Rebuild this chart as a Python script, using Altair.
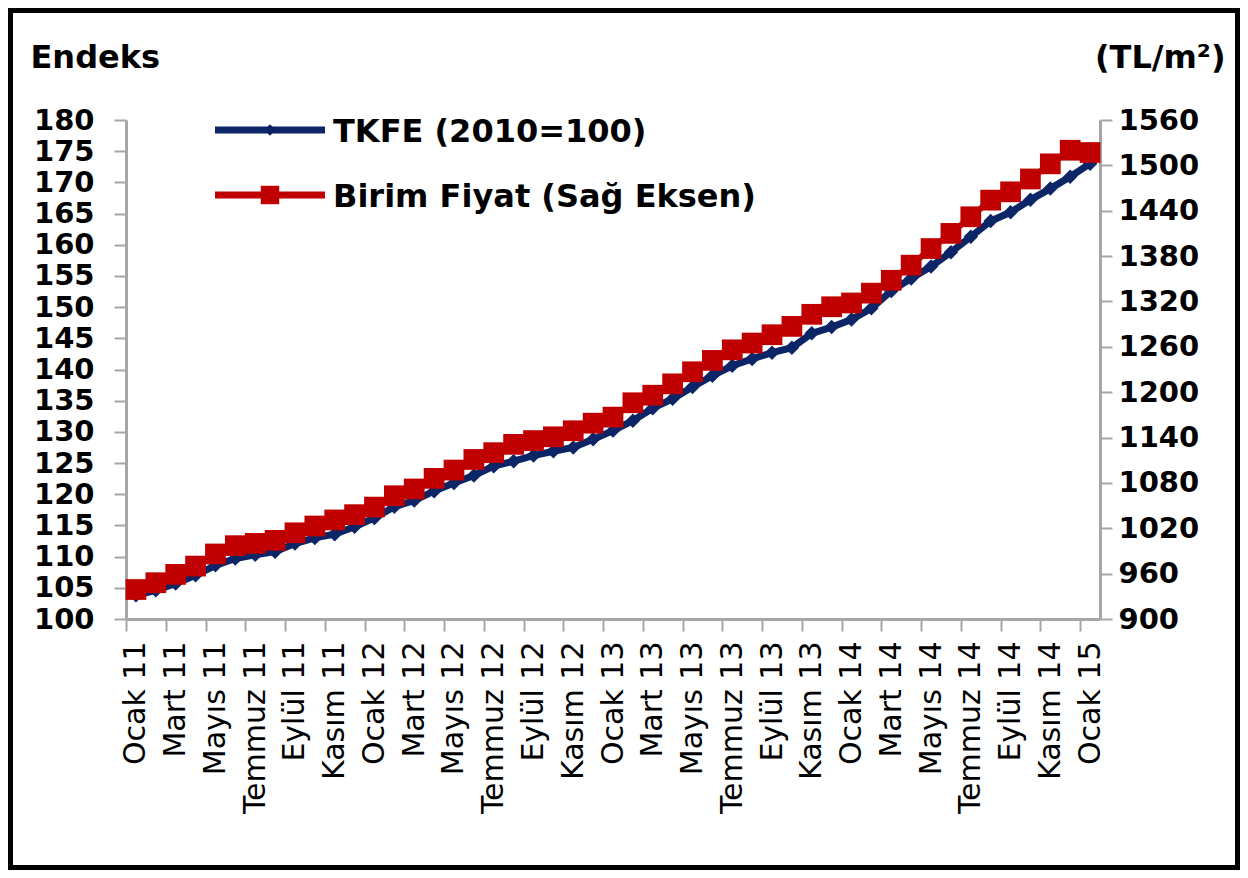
import altair as alt
import pandas as pd

# ---- data ----
months = [
    "Ocak 11", "Şubat 11", "Mart 11", "Nisan 11", "Mayıs 11", "Haziran 11",
    "Temmuz 11", "Ağustos 11", "Eylül 11", "Ekim 11", "Kasım 11", "Aralık 11",
    "Ocak 12", "Şubat 12", "Mart 12", "Nisan 12", "Mayıs 12", "Haziran 12",
    "Temmuz 12", "Ağustos 12", "Eylül 12", "Ekim 12", "Kasım 12", "Aralık 12",
    "Ocak 13", "Şubat 13", "Mart 13", "Nisan 13", "Mayıs 13", "Haziran 13",
    "Temmuz 13", "Ağustos 13", "Eylül 13", "Ekim 13", "Kasım 13", "Aralık 13",
    "Ocak 14", "Şubat 14", "Mart 14", "Nisan 14", "Mayıs 14", "Haziran 14",
    "Temmuz 14", "Ağustos 14", "Eylül 14", "Ekim 14", "Kasım 14", "Aralık 14",
    "Ocak 15",
]
tick_labels = [m if i % 2 == 0 else "" for i, m in enumerate(months)]

tkfe = [
    103.8, 104.6, 105.7, 107.0, 108.6, 109.7, 110.3, 110.8, 112.1, 113.0,
    113.6, 114.8, 116.2, 118.0, 119.0, 120.5, 121.8, 123.0, 124.5, 125.3,
    126.2, 126.9, 127.5, 128.8, 130.2, 131.8, 133.8, 135.3, 137.2, 139.0,
    140.6, 141.7, 142.7, 143.5, 145.8, 146.8, 148.0, 149.8, 152.6, 154.6,
    156.5, 158.8, 161.3, 163.8, 165.2, 167.2, 169.0, 170.9, 173.0,
]
birim = [
    939, 948, 959, 970, 986, 997, 1000, 1004, 1014, 1023,
    1031, 1038, 1048, 1063, 1072, 1086, 1097, 1111, 1120, 1131,
    1136, 1141, 1149, 1159, 1167, 1186, 1196, 1211, 1227, 1242,
    1256, 1265, 1276, 1287, 1303, 1313, 1318, 1331, 1348, 1368,
    1390, 1410, 1432, 1454, 1465, 1482, 1502, 1520, 1517,
]
legend_labels = ["TKFE (2010=100)", "Birim Fiyat (Sağ Eksen)"]
left_ticks = list(range(100, 181, 5))
right_ticks = list(range(900, 1561, 60))

df = pd.DataFrame({"idx": list(range(len(months))), "month": months,
                   "tkfe": tkfe, "birim": birim})

BLUE = "#0B2566"
RED = "#C00000"
GRAY = "#A6A6A6"
FONT = "DejaVu Sans"

W, H = 974, 499
PAD = {"left": 118, "top": 112, "right": 140, "bottom": 251}
n = len(months)
half_step = W / n / 2

label_arr = "[" + ",".join("'" + t + "'" for t in tick_labels + [""]) + "]"
label_expr = label_arr + "[floor(datum.value + 0.5)]"

x_enc = alt.X(
    "idx:Q",
    scale=alt.Scale(domain=[-0.5, n - 0.5], nice=False, zero=False),
    axis=alt.Axis(
        values=[k - 0.5 for k in range(n + 1)],
        labelExpr=label_expr,
        labelAngle=270,
        labelOffset=half_step,
        labelFont=FONT, labelFontSize=30, labelColor="black",
        labelPadding=10, labelOverlap=False, labelBound=False, labelFlush=False,
        tickSize=12, tickColor=GRAY, tickWidth=2,
        domainColor=GRAY, domainWidth=3,
        grid=False, title=None,
    ),
)

base = alt.Chart(df)

blue = base.mark_line(
    color=BLUE, strokeWidth=7,
    point=alt.OverlayMarkDef(shape="diamond", size=210, filled=True, color=BLUE, opacity=1),
).encode(
    x=x_enc,
    y=alt.Y("tkfe:Q",
            scale=alt.Scale(domain=[100, 180], nice=False, zero=False),
            axis=alt.Axis(
                orient="left", values=left_ticks, format="d",
                labelFont=FONT, labelFontSize=29, labelFontWeight="bold",
                labelColor="black", labelPadding=20, labelOverlap=False,
                labelBound=False, labelFlush=False,
                tickSize=12, tickColor=GRAY, tickWidth=2,
                domainColor=GRAY, domainWidth=3, grid=False,
                title="Endeks", titleAngle=0, titleX=-96, titleY=-63,
                titleAlign="left", titleBaseline="middle",
                titleFont=FONT, titleFontSize=32, titleFontWeight="bold",
                titleColor="black",
            )),
)

red = base.mark_line(
    color=RED, strokeWidth=6,
    point=alt.OverlayMarkDef(shape="square", size=430, filled=True, color=RED, opacity=1),
).encode(
    x=alt.X("idx:Q"),
    y=alt.Y("birim:Q",
            scale=alt.Scale(domain=[900, 1560], nice=False, zero=False),
            axis=alt.Axis(
                orient="right", values=right_ticks, format="d",
                labelFont=FONT, labelFontSize=29, labelFontWeight="bold",
                labelColor="black", labelPadding=6, labelOverlap=False,
                labelBound=False, labelFlush=False,
                tickSize=12, tickColor=GRAY, tickWidth=2,
                domainColor=GRAY, domainWidth=3, grid=False,
                title="(TL/m²)", titleAngle=0, titleX=125, titleY=-63,
                titleAlign="right", titleBaseline="middle",
                titleFont=FONT, titleFontSize=32, titleFontWeight="bold",
                titleColor="black",
            )),
)

# ---- manual legend (top-left inside plot) ----
def legend_entry(label, color, shape, size, ypos):
    d = alt.Data(values=[{"label": label}])
    line = alt.Chart(d).mark_rule(color=color, strokeWidth=7).encode(
        x=alt.value(89), x2=alt.value(199), y=alt.value(ypos))
    pt = alt.Chart(d).mark_point(shape=shape, size=size, filled=True,
                                 color=color, opacity=1).encode(
        x=alt.value(144), y=alt.value(ypos))
    txt = alt.Chart(d).mark_text(align="left", baseline="middle", font=FONT,
                                 fontSize=32, fontWeight="bold",
                                 color="black").encode(
        x=alt.value(207), y=alt.value(ypos + 2), text="label:N")
    return [line, pt, txt]

leg = legend_entry(legend_labels[0], BLUE, "diamond", 130, 10) + \
      legend_entry(legend_labels[1], RED, "square", 340, 75)

frame = alt.Chart(alt.Data(values=[{"f": 1}])).mark_rect(
    fillOpacity=0, stroke="black", strokeWidth=5).encode(
    x=alt.value(2.5 - PAD["left"]),
    x2=alt.value(W + PAD["right"] - 2.5),
    y=alt.value(2.5 - PAD["top"]),
    y2=alt.value(H + PAD["bottom"] - 2.5),
)

chart = alt.layer(blue, red, *leg, frame).resolve_scale(
    y="independent"
).properties(
    width=W, height=H,
    padding=PAD,
    autosize=alt.AutoSizeParams(type="none"),
    background="white",
).configure_view(stroke=None)

chart.save("out.html", embed_options={"renderer": "svg", "actions": False})
